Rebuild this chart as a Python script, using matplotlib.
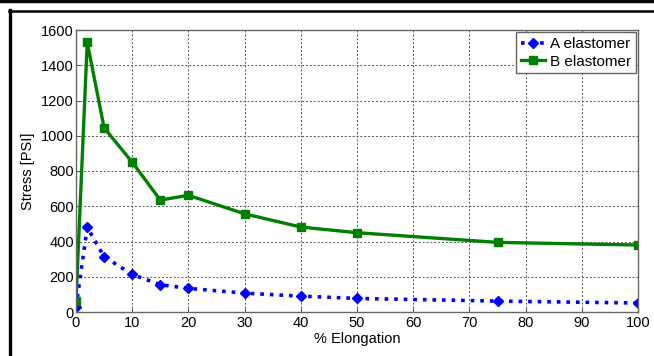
import matplotlib.pyplot as plt
from matplotlib.lines import Line2D

plt.rcParams['font.family'] = ['Liberation Sans', 'DejaVu Sans']

# Elongation points (%) and stress readings (PSI)
elongation = [0, 2, 5, 10, 15, 20, 30, 40, 50, 75, 100]
stress_a = [30, 480, 314, 213, 155, 134, 107, 90, 77, 62, 51]
stress_b = [63, 1530, 1045, 850, 635, 662, 557, 482, 450, 395, 380]

W, H = 654, 356
fig = plt.figure(figsize=(W / 100, H / 100), dpi=100)
ax = fig.add_axes([76 / W, 1 - 312 / H, (638 - 76) / W, (312 - 30) / H])

ax.plot(elongation, stress_a, color='#0000ff', linestyle=':', linewidth=2.6,
        marker='D', markersize=5, label='A elastomer')
ax.plot(elongation, stress_b, color='#008000', linestyle='-', linewidth=2.4,
        marker='s', markersize=5.5, label='B elastomer')

ax.set_xlim(0, 100)
ax.set_ylim(0, 1600)
ax.set_xticks(range(0, 101, 10))
ax.set_yticks(range(0, 1601, 200))
ax.grid(True, linestyle=(0, (2, 2)), color='#555555', linewidth=0.7)
ax.tick_params(direction='in', length=3, labelsize=10.5, color='#555555')
ax.tick_params(axis='y', pad=1.5)
ax.tick_params(axis='x', pad=3)
for s in ax.spines.values():
    s.set_color('#666666')
    s.set_linewidth(1.0)

ax.set_xlabel('% Elongation', fontsize=10.5, labelpad=1)
ax.set_ylabel('Stress [PSI]', fontsize=10.5, labelpad=4)

leg = ax.legend(loc='upper right', fontsize=11, fancybox=False, framealpha=1,
                edgecolor='#666666', borderaxespad=0.15, handlelength=1.6,
                handletextpad=0.3, borderpad=0.3, labelspacing=0.25)
leg.get_frame().set_linewidth(1.0)

# frame lines around the figure
fig.add_artist(Line2D([0, 1], [1 - 1 / H, 1 - 1 / H], color='black', linewidth=2.5))
fig.add_artist(Line2D([9 / W, 1], [1 - 11 / H, 1 - 11 / H], color='black', linewidth=1.8))
fig.add_artist(Line2D([10 / W, 10 / W], [0, 1 - 10 / H], color='black', linewidth=2.4))

fig.savefig('out.png', dpi=100)
